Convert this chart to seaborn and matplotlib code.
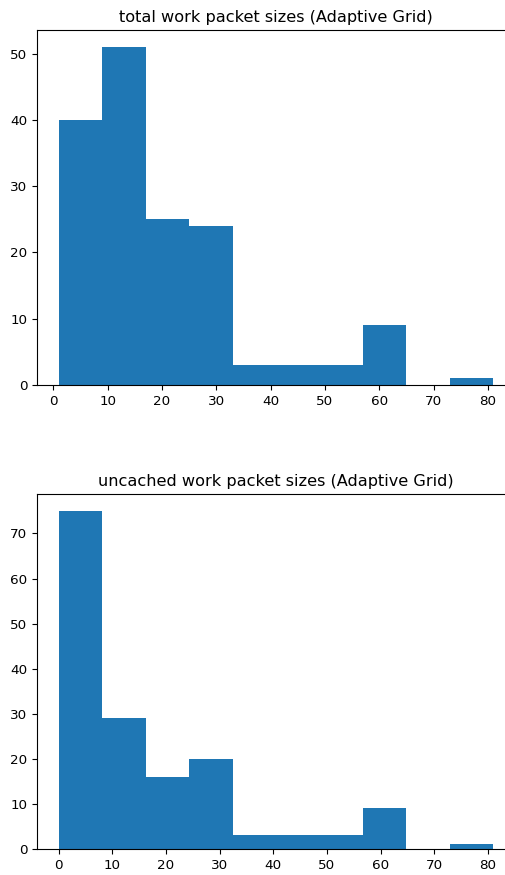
import matplotlib
matplotlib.use("Agg")
import matplotlib.pyplot as plt
import numpy as np
import pandas as pd
import seaborn as sns

# Histogram bin edges and counts for the two packet-size distributions
total_edges = [1, 9, 17, 25, 33, 41, 49, 57, 65, 73, 81]
total_counts = [40, 51, 25, 24, 3, 3, 3, 9, 0, 1]

uncached_edges = [0, 8.1, 16.2, 24.3, 32.4, 40.5, 48.6, 56.7, 64.8, 72.9, 81]
uncached_counts = [75, 29, 16, 20, 3, 3, 3, 9, 0, 1]

titles = [
    "total work packet sizes (Adaptive Grid)",
    "uncached work packet sizes (Adaptive Grid)",
]

plt.rcParams["xtick.labelsize"] = 9.7
plt.rcParams["ytick.labelsize"] = 9.7


def binned_frame(edges, counts):
    e = np.asarray(edges, dtype=float)
    mids = (e[:-1] + e[1:]) / 2
    return pd.DataFrame({"size": mids, "count": counts})


fig = plt.figure(figsize=(5.06, 8.75), dpi=100)
# the axes run slightly past the right edge of the canvas
ax_top = fig.add_axes([37 / 506, (875 - 385) / 875, 478 / 506, 355 / 875])
ax_bot = fig.add_axes([37 / 506, (875 - 849) / 875, 478 / 506, 355 / 875])

for ax, edges, counts, title in [
    (ax_top, total_edges, total_counts, titles[0]),
    (ax_bot, uncached_edges, uncached_counts, titles[1]),
]:
    df = binned_frame(edges, counts)
    sns.histplot(
        data=df, x="size", weights="count", bins=edges, ax=ax,
        color="#1f77b4", alpha=1.0, linewidth=0,
    )
    ax.set_title(title, fontsize=11.6)
    ax.set_xlabel("")
    ax.set_ylabel("")
    lo, hi = edges[0], edges[-1]
    pad = (hi - lo) * 0.05
    ax.set_xlim(lo - pad, hi + pad)
    ax.set_ylim(0, max(counts) * 1.05)
    ax.set_xticks(range(0, 81, 10))

ax_top.set_yticks(range(0, 51, 10))
ax_bot.set_yticks(range(0, 71, 10))

fig.savefig("out.png", dpi=100)
